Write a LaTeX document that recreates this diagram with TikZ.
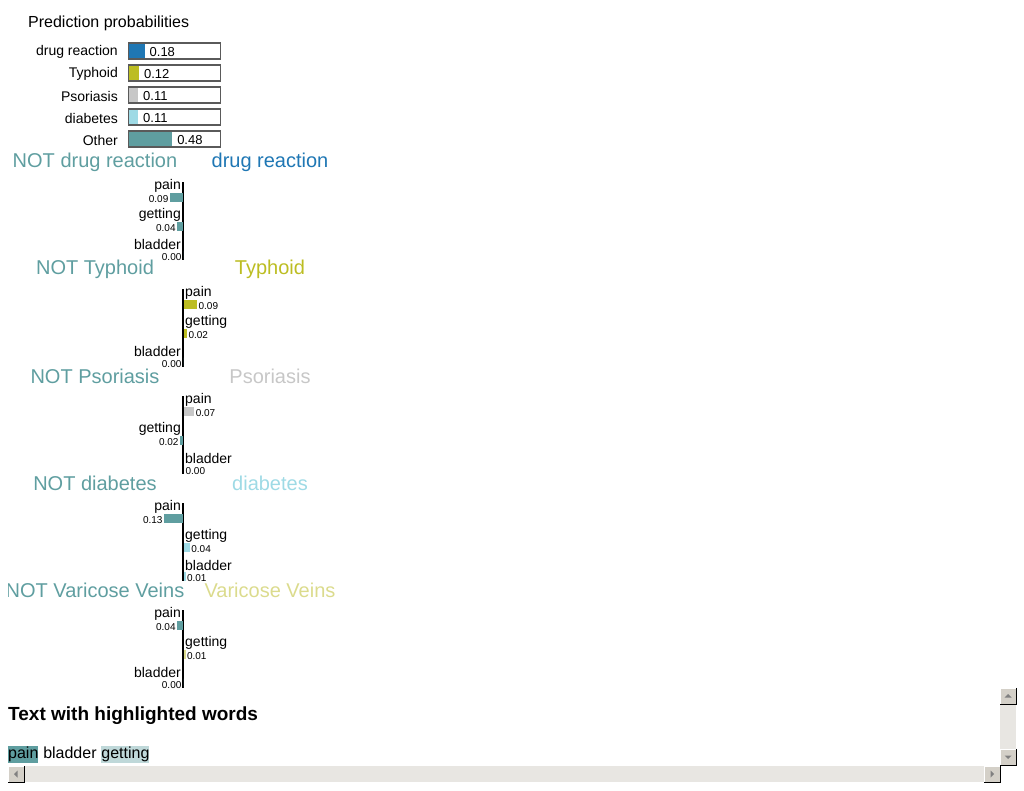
\documentclass[tikz,border=0pt]{standalone}
\usepackage{fontspec}
\setmainfont{Liberation Sans}
\usetikzlibrary{positioning}
\definecolor{notcol}{HTML}{5F9EA0}
\definecolor{cdrug}{HTML}{1F77B4}
\definecolor{ctyph}{HTML}{BCBD22}
\definecolor{cpsor}{HTML}{C7C7C7}
\definecolor{cdiab}{HTML}{9EDAE5}
\definecolor{cvar}{HTML}{DBDB8D}
\definecolor{framegray}{HTML}{5A5A5A}
\definecolor{btnface}{HTML}{D4D0C8}
\definecolor{sbtrack}{HTML}{E8E6E2}
\newcommand\fs[1]{\fontsize{#1}{#1}\selectfont}
\begin{document}
\begin{tikzpicture}[x=1pt,y=-1pt,
	every node/.style={inner sep=0pt},
	problab/.style={anchor=east,font=\fs{14},yshift=-1pt},
	probval/.style={anchor=west,font=\fs{13},yshift=-1pt},
	probbar/.style={anchor=west,minimum height=16pt},
	probframe/.style={draw=framegray,line width=1.3pt,anchor=west,
		minimum width=92pt,minimum height=16pt},
	sectitle/.style={font=\fs{20},yshift=-1.5pt},
	featlab/.style={font=\fs{14},yshift=-2pt},
	featval/.style={font=\fs{10}},
	featbar/.style={minimum height=9pt},
	sideL/.style={anchor=east},
	sideR/.style={anchor=west},
	axisline/.style={line width=2pt},
	sbbtn/.style={fill=btnface,minimum size=16pt}]
\useasboundingbox (0,0) rectangle (1024,790);
% prediction probabilities
\node[anchor=west,font=\fs{16},yshift=-1.5pt] (ptitle) at (28,22) {Prediction probabilities};
\foreach \lab/\val/\col [count=\i from 0] in
	{drug reaction/0.18/cdrug,Typhoid/0.12/ctyph,Psoriasis/0.11/cpsor,
	 diabetes/0.11/cdiab,Other/0.48/notcol}{
	\pgfmathsetmacro\py{51+22*\i}
	\pgfmathsetmacro\pw{92*\val}
	\node[problab] (plab\i) at (118,\py) {\lab};
	\node[probbar,fill=\col,minimum width=\pw pt] (pbar\i) at (128,\py) {};
	\node[probframe] (pframe\i) at (128,\py) {};
	\node[probval] (pval\i) at ([xshift=4.5pt]pbar\i.east) {\val};
}
% one explanation per class
\begin{scope}
\clip (8,0) rectangle (1024,790);
\foreach \cls/\ccol [count=\k from 0] in
	{drug reaction/cdrug,Typhoid/ctyph,Psoriasis/cpsor,
	 diabetes/cdiab,Varicose Veins/cvar}{
	\pgfmathsetmacro\ty{161+107*\k}
	\node[sectitle,text=notcol] (not\k) at (95,\ty) {NOT \cls};
	\node[sectitle,text=\ccol] (cls\k) at (270,\ty) {\cls};
	\coordinate (axtop\k) at (183,\ty+21);
	\coordinate (axbot\k) at (183,\ty+99);
	\draw[axisline] (axtop\k) -- (axbot\k);
}
\end{scope}
\foreach \k/\i/\name/\val/\s/\c in
	{0/0/pain/0.09/L/notcol,0/1/getting/0.04/L/notcol,0/2/bladder/0.00/L/notcol,
	 1/0/pain/0.09/R/ctyph,1/1/getting/0.02/R/ctyph,1/2/bladder/0.00/L/notcol,
	 2/0/pain/0.07/R/cpsor,2/1/getting/0.02/L/notcol,2/2/bladder/0.00/R/cpsor,
	 3/0/pain/0.13/L/notcol,3/1/getting/0.04/R/cdiab,3/2/bladder/0.01/R/cdiab,
	 4/0/pain/0.04/L/notcol,4/1/getting/0.01/R/cvar,4/2/bladder/0.00/L/notcol}{
	\pgfmathsetmacro\ly{161+107*\k+23+29*\i}
	\pgfmathsetmacro\by{161+107*\k+36+29*\i}
	\pgfmathsetmacro\bw{145*\val}
	\if\s L\def\lx{181}\def\bx{183}\def\oe{west}\def\vs{-1pt}%
	\else\def\lx{185}\def\bx{184}\def\oe{east}\def\vs{1pt}\fi
	\node[featlab,side\s] (flab\k\i) at (\lx,\ly) {\name};
	\node[featbar,side\s,fill=\c,minimum width=\bw pt] (fbar\k\i) at (\bx,\by) {};
	\node[featval,side\s] (fval\k\i) at ([xshift=\vs,yshift=-2pt]fbar\k\i.\oe) {\val};
}
% highlighted text
\node[anchor=west,font=\fs{19}\bfseries,yshift=-1.5pt] (htitle) at (8,714) {Text with highlighted words};
\node[anchor=west,font=\fs{16},fill=notcol,text height=12pt,text depth=4pt,inner ysep=0.5pt]
	(wpain) at (8,754.5) {pain};
\node[right=4.4pt of wpain,font=\fs{16},text height=12pt,text depth=4pt,inner ysep=0.5pt]
	(wbladder) {bladder};
\node[right=4.4pt of wbladder,font=\fs{16},fill=notcol!40,text height=12pt,text depth=4pt,inner ysep=0.5pt]
	(wgetting) {getting};
% scroll bars
\fill[sbtrack] (1000,688) rectangle (1016,766);
\fill[sbtrack] (8,766) rectangle (1000,782);
\foreach \b/\bx/\by/\r in {up/1008/696/0,down/1008/757/180,left/16/774/90,right/992/774/270}{
	\node[sbbtn] (sb\b) at (\bx,\by) {};
	\draw[white] (sb\b.south west) -- (sb\b.north west) -- (sb\b.north east);
	\draw[black] (sb\b.north east) -- (sb\b.south east) -- (sb\b.south west);
	\fill[gray,shift={(\bx,\by)},rotate=\r] (-3.5,1.5) -- (3.5,1.5) -- (0,-2) -- cycle;
}
\end{tikzpicture}
\end{document}
